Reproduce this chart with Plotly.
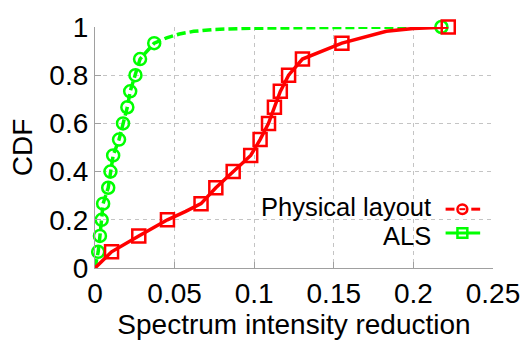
import plotly.graph_objects as go

# ---- data ----
# marker positions (CDF steps)
phys_mark_x = [0.0104, 0.0275, 0.0455, 0.0666, 0.0759, 0.0868, 0.0978, 0.1037,
               0.1090, 0.1127, 0.1164, 0.1216, 0.1303, 0.1551, 0.2219]
phys_mark_y = [0.067, 0.133, 0.200, 0.267, 0.333, 0.400, 0.467, 0.533,
               0.600, 0.667, 0.733, 0.800, 0.867, 0.933, 1.000]
als_mark_x = [0.0020, 0.0031, 0.0042, 0.0051, 0.0083, 0.0097, 0.0114, 0.0151,
              0.0176, 0.0203, 0.0221, 0.0254, 0.0283, 0.0372, 0.2176]
als_mark_y = [0.067, 0.133, 0.200, 0.267, 0.333, 0.400, 0.467, 0.533,
              0.600, 0.667, 0.733, 0.800, 0.867, 0.933, 1.000]

# full curves (include points between markers)
phys_line_x = [0.0, 0.0104, 0.0275, 0.0455, 0.0570, 0.0666, 0.0759, 0.0868, 0.0978, 0.1037,
               0.1090, 0.1127, 0.1164, 0.1216, 0.1303, 0.1551, 0.1830, 0.2000, 0.2219]
phys_line_y = [0.0, 0.067, 0.133, 0.200, 0.235, 0.267, 0.333, 0.400, 0.467, 0.533,
               0.600, 0.667, 0.733, 0.800, 0.867, 0.933, 0.982, 0.994, 1.000]
als_line_x = [0.0, 0.0020, 0.0031, 0.0042, 0.0051, 0.0083, 0.0097, 0.0114, 0.0151,
              0.0176, 0.0203, 0.0221, 0.0254, 0.0283, 0.0372, 0.0450, 0.0530, 0.0620,
              0.0750, 0.1000, 0.1500, 0.2176]
als_line_y = [0.0, 0.067, 0.133, 0.200, 0.267, 0.333, 0.400, 0.467, 0.533,
              0.600, 0.667, 0.733, 0.800, 0.867, 0.933, 0.955, 0.971, 0.982,
              0.990, 0.995, 0.998, 1.000]

x_ticks = [0, 0.05, 0.1, 0.15, 0.2, 0.25]
x_tick_text = ["0", "0.05", "0.1", "0.15", "0.2", "0.25"]
y_ticks = [0, 0.2, 0.4, 0.6, 0.8, 1]
y_tick_text = ["0", "0.2", "0.4", "0.6", "0.8", "1"]
legend_labels = ["Physical layout", "ALS"]

RED = "#ff0000"
GREEN = "#00ff00"
FONT = "Liberation Sans, Arial, sans-serif"

fig = go.Figure()

# ALS (green, dashed, open circles)
fig.add_trace(go.Scatter(x=als_line_x, y=als_line_y, mode="lines",
                         line=dict(color=GREEN, width=3.5, dash="9px,4px"),
                         showlegend=False, hoverinfo="skip", cliponaxis=False))
fig.add_trace(go.Scatter(x=als_mark_x, y=als_mark_y, mode="markers",
                         marker=dict(symbol="circle-open", size=12, color=GREEN,
                                     line=dict(color=GREEN, width=2.5)),
                         showlegend=False, cliponaxis=False))
# Physical layout (red, solid, open squares)
fig.add_trace(go.Scatter(x=phys_line_x, y=phys_line_y, mode="lines",
                         line=dict(color=RED, width=3.5),
                         showlegend=False, hoverinfo="skip", cliponaxis=False))
fig.add_trace(go.Scatter(x=phys_mark_x, y=phys_mark_y, mode="markers",
                         marker=dict(symbol="square-open", size=13, color=RED,
                                     line=dict(color=RED, width=2.5)),
                         showlegend=False, cliponaxis=False))

# ---- manual legend (text left of sample, as in reference) ----
W, H = 403.0, 254.0  # plot area px
def px(xp):
    return (xp - 95) / W
def py(yp):
    return (270 - yp) / H

rows = [206, 236]
for lab, yp in zip(legend_labels, rows):
    fig.add_annotation(text=lab, xref="paper", yref="paper", x=px(437), y=py(yp),
                       xanchor="right", yanchor="middle", showarrow=False,
                       font=dict(size=25.5, color="black", family=FONT))

shapes = []
# Physical layout sample: red dashed with circle
yp = 208
shapes.append(dict(type="line", xref="paper", yref="paper", x0=px(450), x1=px(459),
                   y0=py(yp), y1=py(yp), line=dict(color=RED, width=3)))
shapes.append(dict(type="line", xref="paper", yref="paper", x0=px(476), x1=px(485),
                   y0=py(yp), y1=py(yp), line=dict(color=RED, width=3)))
shapes.append(dict(type="circle", xref="paper", yref="paper",
                   x0=px(467 - 5), x1=px(467 + 5), y0=py(yp + 5), y1=py(yp - 5),
                   line=dict(color=RED, width=2.5)))
shapes.append(dict(type="line", xref="paper", yref="paper", x0=px(464), x1=px(470),
                   y0=py(yp), y1=py(yp), line=dict(color=RED, width=2)))
# ALS sample: green solid with square
yp = 233
shapes.append(dict(type="line", xref="paper", yref="paper", x0=px(450), x1=px(485),
                   y0=py(yp), y1=py(yp), line=dict(color=GREEN, width=3)))
shapes.append(dict(type="rect", xref="paper", yref="paper",
                   x0=px(467 - 5), x1=px(467 + 5), y0=py(yp + 5), y1=py(yp - 5),
                   line=dict(color=GREEN, width=2.5)))
fig.update_layout(shapes=shapes)

axis_common = dict(
    showline=True, linecolor="#a0a0a0", linewidth=1.2, mirror=False,
    showgrid=True, gridcolor="#c4c4c4", gridwidth=1, griddash="4px,4px",
    zeroline=False, ticks="inside", ticklen=6, tickcolor="#a0a0a0", tickwidth=1.2,
    tickfont=dict(size=28, color="black", family=FONT),
)
fig.update_xaxes(range=[0, 0.25], tickvals=x_ticks, ticktext=x_tick_text,
                 title=dict(text="Spectrum intensity reduction",
                            font=dict(size=28, color="black", family=FONT), standoff=5),
                 **axis_common)
fig.update_yaxes(range=[0, 1], tickvals=y_ticks, ticktext=y_tick_text,
                 title=dict(text="CDF", font=dict(size=28, color="black", family=FONT),
                            standoff=8),
                 **axis_common)

fig.update_layout(
    width=532, height=345,
    margin=dict(l=95, r=34, t=16, b=75),
    plot_bgcolor="white", paper_bgcolor="white",
    showlegend=False,
    font=dict(family=FONT, color="black"),
)

fig.write_html("out.html")
